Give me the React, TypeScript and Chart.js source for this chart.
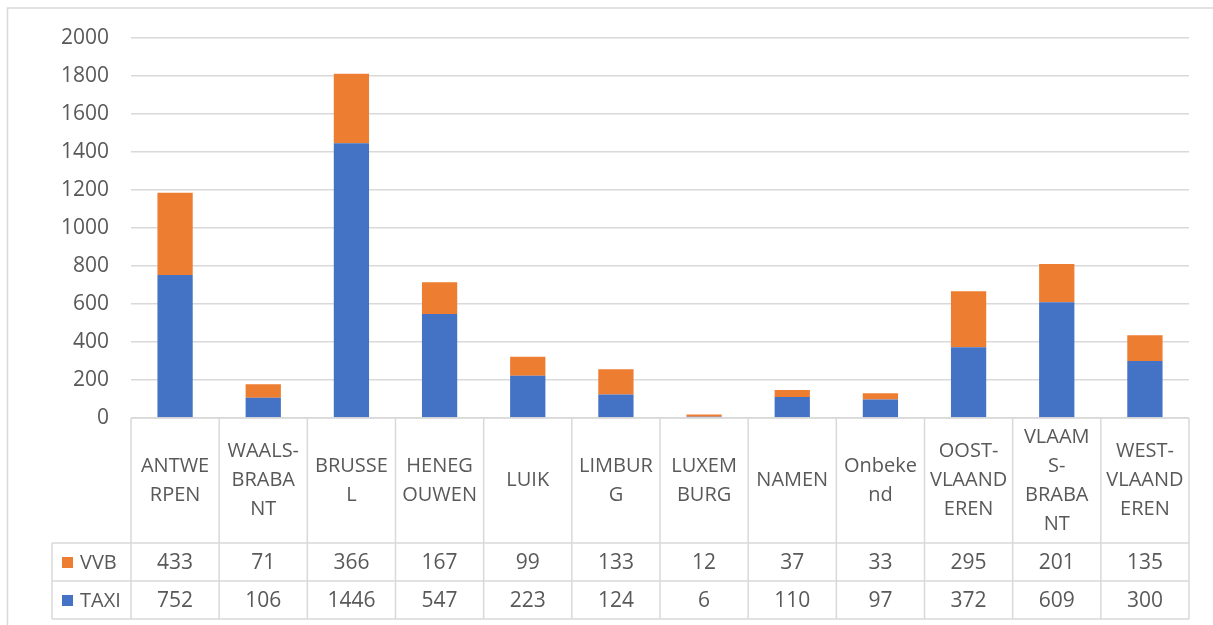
import React, { useEffect, useRef } from "react";
import { Chart, registerables } from "chart.js";

Chart.register(...registerables);

const categoryLines: string[][] = [
  ["ANTWE", "RPEN"],
  ["WAALS-", "BRABA", "NT"],
  ["BRUSSE", "L"],
  ["HENEG", "OUWEN"],
  ["LUIK"],
  ["LIMBUR", "G"],
  ["LUXEM", "BURG"],
  ["NAMEN"],
  ["Onbeke", "nd"],
  ["OOST-", "VLAAND", "EREN"],
  ["VLAAM", "S-", "BRABA", "NT"],
  ["WEST-", "VLAAND", "EREN"],
];
const categories = categoryLines.map((l) => l.join(""));
const vvbValues = [433, 71, 366, 167, 99, 133, 12, 37, 33, 295, 201, 135];
const taxiValues = [752, 106, 1446, 547, 223, 124, 6, 110, 97, 372, 609, 300];
const yTicks = [0, 200, 400, 600, 800, 1000, 1200, 1400, 1600, 1800, 2000];

const BLUE = "#4472C4";
const ORANGE = "#ED7D31";
const GRID = "#d9d9d9";
const TEXT = "#595959";
const FONT = "'Open Sans', 'Noto Sans', sans-serif";

const frameAndTable = {
  id: "frameAndTable",
  beforeDraw(chart: any) {
    const { ctx, width, height } = chart;
    ctx.save();
    ctx.fillStyle = "#ffffff";
    ctx.fillRect(0, 0, width, height);
    ctx.strokeStyle = GRID;
    ctx.lineWidth = 1.5;
    ctx.beginPath();
    ctx.moveTo(7.5, height);
    ctx.lineTo(7.5, 8);
    ctx.lineTo(width, 8);
    ctx.stroke();
    ctx.restore();
  },
  afterDraw(chart: any) {
    const { ctx, chartArea } = chart;
    const x = chart.scales.x;
    const n = categories.length;
    const left = chartArea.left;
    const right = chartArea.right;
    const step = (right - left) / n;
    const top = chartArea.bottom;
    const r1 = top + 125;
    const r2 = r1 + 38;
    const r3 = r2 + 38;
    const legLeft = 52;

    ctx.save();
    ctx.strokeStyle = GRID;
    ctx.lineWidth = 1.5;
    ctx.beginPath();
    ctx.moveTo(left, top);
    ctx.lineTo(right, top);
    for (const yy of [r1, r2, r3]) {
      ctx.moveTo(legLeft, yy);
      ctx.lineTo(right, yy);
    }
    for (let i = 0; i <= n; i++) {
      const xx = left + i * step;
      ctx.moveTo(xx, top);
      ctx.lineTo(xx, r3);
    }
    ctx.moveTo(legLeft, r1);
    ctx.lineTo(legLeft, r3);
    ctx.stroke();

    ctx.fillStyle = TEXT;
    ctx.textAlign = "center";
    ctx.textBaseline = "middle";
    const lh = 29;
    const midCat = (top + r1) / 2;
    for (let i = 0; i < n; i++) {
      const cx = x.getPixelForValue(i);
      const lines = categoryLines[i];
      const start = midCat - ((lines.length - 1) * lh) / 2;
      ctx.font = `20px ${FONT}`;
      lines.forEach((ln, j) => ctx.fillText(ln, cx, start + j * lh));
      ctx.font = `21px ${FONT}`;
      ctx.fillText(String(vvbValues[i]), cx, (r1 + r2) / 2 + 1);
      ctx.fillText(String(taxiValues[i]), cx, (r2 + r3) / 2 + 1);
    }

    const rows = [
      { label: "VVB", color: ORANGE, y: (r1 + r2) / 2 },
      { label: "TAXI", color: BLUE, y: (r2 + r3) / 2 },
    ];
    ctx.textAlign = "left";
    ctx.font = `20px ${FONT}`;
    for (const r of rows) {
      ctx.fillStyle = r.color;
      ctx.fillRect(62, r.y - 5, 11, 11);
      ctx.fillStyle = TEXT;
      ctx.fillText(r.label, 80, r.y + 1);
    }
    ctx.restore();
  },
};

export default function App() {
  const ref = useRef<HTMLCanvasElement | null>(null);
  useEffect(() => {
    if (!ref.current) return;
    const chart = new Chart(ref.current, {
      type: "bar",
      data: {
        labels: categories,
        datasets: [
          {
            label: "TAXI",
            data: taxiValues,
            backgroundColor: BLUE,
            barPercentage: 0.4,
            categoryPercentage: 1,
          },
          {
            label: "VVB",
            data: vvbValues,
            backgroundColor: ORANGE,
            barPercentage: 0.4,
            categoryPercentage: 1,
          },
        ],
      },
      options: {
        responsive: false,
        animation: false,
        layout: { padding: { left: 0, top: 38, right: 24, bottom: 207 } },
        plugins: { legend: { display: false }, tooltip: { enabled: false } },
        scales: {
          x: { stacked: true, display: false },
          y: {
            stacked: true,
            min: 0,
            max: 2000,
            afterFit: (s: any) => {
              s.width = 131;
            },
            afterBuildTicks: (s: any) => {
              s.ticks = yTicks.map((v) => ({ value: v }));
            },
            border: { display: false },
            grid: { color: GRID, lineWidth: 1.5, drawTicks: false },
            ticks: {
              padding: 22,
              color: TEXT,
              font: { family: FONT, size: 21 },
              callback: (v: any) => String(v),
            },
          },
        },
      },
      plugins: [frameAndTable],
    });
    return () => chart.destroy();
  }, []);
  return (
    <div style={{ position: "fixed", left: 0, top: 0, width: 1213, height: 625 }}>
      <canvas ref={ref} width={1213} height={625} style={{ display: "block" }} />
    </div>
  );
}
